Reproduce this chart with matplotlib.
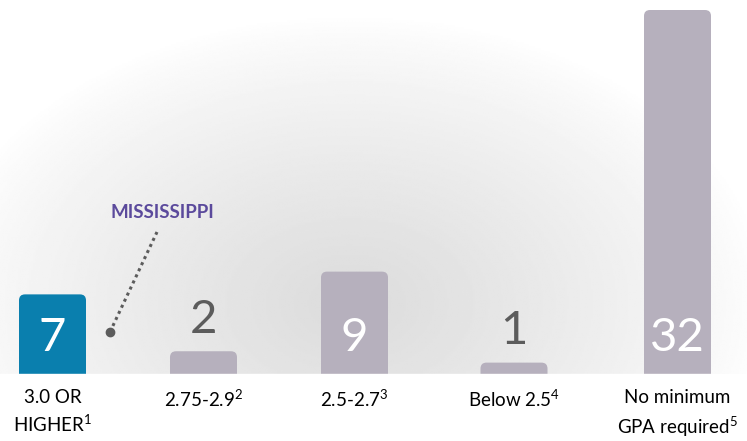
import numpy as np
import matplotlib.pyplot as plt
from matplotlib.patches import FancyBboxPatch

plt.rcParams["mathtext.fontset"] = "custom"
plt.rcParams["mathtext.rm"] = "Lato"
plt.rcParams["mathtext.it"] = "Lato"

# data
categories = ["3.0 OR\nHIGHER$^{\\mathregular{1}}$", "2.75-2.9$^{\\mathregular{2}}$",
              "2.5-2.7$^{\\mathregular{3}}$", "Below 2.5$^{\\mathregular{4}}$",
              "No minimum\nGPA required$^{\\mathregular{5}}$"]
values = [7, 2, 9, 1, 32]
highlight = [True, False, False, False, False]

# layout (pixel-like x positions, y in value units)
xpos = [52.5, 203.5, 354.5, 514, 677.5]
bar_w = 67
px_per_unit = 11.375
base_px = 374  # baseline from top
W, H = 747, 441

blue = "#0a7fae"
grey = "#b6b0bd"

fig = plt.figure(figsize=(7.47, 4.41), dpi=100)
ax = fig.add_axes([0, 0, 1, 1])
ymin = -(H - base_px) / px_per_unit
ymax = base_px / px_per_unit
ax.set_xlim(0, W)
ax.set_ylim(ymin, ymax)
ax.axis("off")

# radial grey background
gx, gy = np.meshgrid(np.linspace(0, W, 400), np.linspace(0, base_px, 200))
r = np.sqrt(((gx - 350) / 420) ** 2 + ((gy - 70) / 290) ** 2)  # gy measured from baseline up
shade = 1 - 0.14 * np.clip(1 - r, 0, 1) ** 0.8
ax.imshow(shade, extent=[0, W, 0, ymax], origin="lower", cmap="gray", vmin=0, vmax=1,
          aspect="auto", zorder=0, interpolation="bilinear")

# bars with rounded top corners
for x, v, hl in zip(xpos, values, highlight):
    p = FancyBboxPatch((x - bar_w / 2, -1), bar_w, v + 1,
                       boxstyle="round,pad=0,rounding_size=6",
                       mutation_aspect=1 / px_per_unit,
                       fc=blue if hl else grey, ec="none", zorder=2)
    ax.add_patch(p)

ax.axhspan(ymin, 0, color="white", zorder=3)

# value labels
for x, v in zip(xpos, values):
    if v >= 5:
        ax.text(x, 1.3, str(v), ha="center", va="bottom", fontsize=34, color="white",
                family="Lato", zorder=4)
    else:
        ax.text(x, v + 0.9, str(v), ha="center", va="bottom", fontsize=34, color="#5c5c5c",
                family="Lato", zorder=4)

# category labels
for x, c in zip(xpos, categories):
    ax.text(x, -1.3, c, ha="center", va="top", fontsize=13.5, color="black",
            family="Lato", linespacing=1.45, zorder=4)

# Mississippi callout
y_dot = (base_px - 332) / px_per_unit
y_top = (base_px - 232) / px_per_unit
ax.plot([110, 157], [y_dot, y_top], linestyle=(0, (1, 1.2)), color="#5c5c5c", lw=2.2, zorder=4)
ax.plot([110], [y_dot], "o", color="#5c5c5c", ms=6, zorder=4)
ax.text(162, (base_px - 213) / px_per_unit, "MISSISSIPPI", ha="center", va="center",
        fontsize=13.5, color="#5b4a9c", family="Lato", fontweight="bold", zorder=4)

fig.savefig("out.png", dpi=100)
